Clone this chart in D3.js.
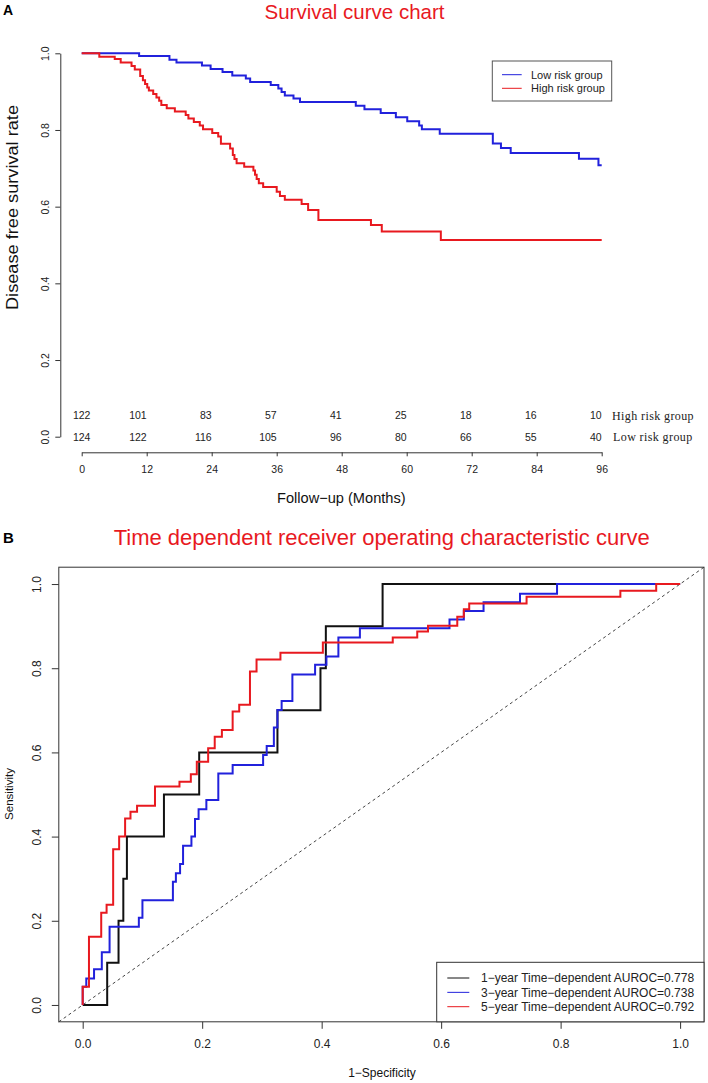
<!DOCTYPE html>
<html>
<head>
<meta charset="utf-8">
<script src="https://cdn.jsdelivr.net/npm/d3@7"></script>
<style>
  html, body { margin: 0; padding: 0; background: #fff; }
  svg { display: block; font-family: "Liberation Sans", Arial, sans-serif; }
  .serif { font-family: "Liberation Serif", "Times New Roman", serif; }
</style>
</head>
<body>
<svg id="chart" width="708" height="1083"></svg>
<script>
// ---------------- Panel A data ----------------
const lowTimes = [0, 10.6, 16.2, 17.5, 22.2, 23.8, 26, 27.8, 30.3, 31.1, 34.9, 36.3, 36.9, 37.5, 39.1, 40.3, 50.6, 52.2, 55.2, 58.0, 60.1, 62.3, 62.8, 66.1, 75.9, 77.4, 79.2, 91.8, 95.4, 96];
const lowSurv  = [1, 0.993, 0.983, 0.976, 0.968, 0.959, 0.951, 0.942, 0.934, 0.925, 0.917, 0.908, 0.899, 0.890, 0.882, 0.873, 0.863, 0.854, 0.844, 0.833, 0.823, 0.812, 0.802, 0.790, 0.765, 0.753, 0.740, 0.725, 0.708, 0.708];
const highTimes = [0, 3.25, 6.1, 7.2, 9.2, 9.8, 10.8, 11.3, 11.7, 12.1, 12.4, 13.2, 13.8, 14.3, 14.7, 15.7, 17.2, 19.2, 19.7, 20.7, 21.8, 22.4, 24.1, 25.2, 25.7, 27.4, 27.9, 28.2, 28.6, 30, 31.7, 32, 32.3, 32.7, 33.5, 36, 36.6, 37.5, 40.6, 41.8, 43.7, 53.4, 55.4, 66.3, 96];
const highSurv  = [1, 0.991, 0.985, 0.976, 0.967, 0.958, 0.941, 0.930, 0.920, 0.911, 0.903, 0.894, 0.885, 0.876, 0.865, 0.857, 0.848, 0.839, 0.830, 0.821, 0.812, 0.802, 0.792, 0.783, 0.764, 0.752, 0.735, 0.724, 0.713, 0.704, 0.694, 0.683, 0.672, 0.661, 0.651, 0.639, 0.628, 0.618, 0.607, 0.591, 0.565, 0.552, 0.535, 0.513, 0.513];
const monthTicks = [0, 12, 24, 36, 48, 60, 72, 84, 96];
const survTicks = [0, 0.2, 0.4, 0.6, 0.8, 1.0];
const atRiskHigh = [122, 101, 83, 57, 41, 25, 18, 16, 10];
const atRiskLow  = [124, 122, 116, 105, 96, 80, 66, 55, 40];
const groupNames = ["Low risk group", "High risk group"];

// ---------------- Panel B data ----------------
const roc1FPR = [0, 0.041, 0.060, 0.068, 0.074, 0.136, 0.195, 0.326, 0.398, 0.407, 0.502, 1];
const roc1TPR = [0, 0.1, 0.2, 0.3, 0.4, 0.5, 0.6, 0.7, 0.8, 0.9, 1.0, 1.0];
const roc3FPR = [0, 0, 0.006, 0.019, 0.032, 0.045, 0.094, 0.100, 0.151, 0.156, 0.163, 0.168, 0.182, 0.188, 0.194, 0.207, 0.227, 0.251, 0.302, 0.308, 0.320, 0.326, 0.333, 0.351, 0.389, 0.408, 0.428, 0.464, 0.614, 0.638, 0.671, 0.732, 0.794, 1];
const roc3TPR = [0, 0.043, 0.063, 0.085, 0.125, 0.186, 0.207, 0.249, 0.293, 0.313, 0.335, 0.378, 0.400, 0.442, 0.465, 0.487, 0.550, 0.570, 0.594, 0.615, 0.659, 0.701, 0.722, 0.785, 0.808, 0.828, 0.873, 0.895, 0.916, 0.936, 0.957, 0.977, 1.0, 1.0];
const roc5FPR = [0, 0, 0.0105, 0.031, 0.040, 0.051, 0.061, 0.071, 0.080, 0.091, 0.121, 0.162, 0.181, 0.191, 0.210, 0.221, 0.233, 0.251, 0.262, 0.280, 0.291, 0.331, 0.402, 0.519, 0.560, 0.578, 0.627, 0.638, 0.647, 0.743, 0.900, 0.960, 1];
const roc5TPR = [0, 0.043, 0.162, 0.219, 0.238, 0.370, 0.400, 0.443, 0.459, 0.473, 0.519, 0.530, 0.548, 0.578, 0.610, 0.637, 0.653, 0.697, 0.713, 0.792, 0.821, 0.837, 0.861, 0.873, 0.887, 0.901, 0.922, 0.940, 0.954, 0.970, 0.984, 1.0, 1.0];
const rocTicks = [0, 0.2, 0.4, 0.6, 0.8, 1.0];
const rocLabels = ["1\u2212year Time\u2212dependent AUROC=0.778", "3\u2212year Time\u2212dependent AUROC=0.738", "5\u2212year Time\u2212dependent AUROC=0.792"];

const RED = "#e8191f", BLUE = "#2121dc", AXIS = "#333";
const svg = d3.select("#chart");
const fmt = d3.format(".1f");

// ================= Panel A =================
const xA = d3.scaleLinear().domain([0, 96]).range([81.7, 601.7]);
const yA = d3.scaleLinear().domain([0, 1]).range([436.7, 53.3]);

svg.append("text").attr("x", 3).attr("y", 15).attr("font-size", 14).attr("font-weight", "bold").text("A");
svg.append("text").attr("x", 354.5).attr("y", 18.5).attr("text-anchor", "middle")
  .attr("font-size", 20.5).attr("fill", RED).text("Survival curve chart");

// y axis
const gyA = svg.append("g").attr("transform", "translate(60.3,0)")
  .call(d3.axisLeft(yA).tickValues(survTicks).tickFormat(fmt).tickSize(5).tickSizeOuter(0));
gyA.attr("font-family", null);
gyA.select(".domain").attr("stroke", AXIS);
gyA.selectAll(".tick line").attr("stroke", AXIS);
gyA.selectAll(".tick text").attr("transform", "rotate(-90)").attr("x", 0).attr("y", -11.3)
  .attr("dy", 0).attr("text-anchor", "middle").attr("font-size", 10.5).attr("fill", "#222");

// x axis
const gxA = svg.append("g").attr("transform", "translate(0,452.3)")
  .call(d3.axisBottom(xA).tickValues(monthTicks).tickSize(4).tickSizeOuter(0));
gxA.attr("font-family", null);
gxA.select(".domain").attr("stroke", AXIS);
gxA.selectAll(".tick line").attr("stroke", AXIS);
gxA.selectAll(".tick text").attr("y", 20.5).attr("dy", 0).attr("font-size", 10.5).attr("fill", "#222");

svg.append("text").attr("x", 341.3).attr("y", 503).attr("text-anchor", "middle")
  .attr("font-size", 14.6).attr("fill", "#111").text("Follow\u2212up (Months)");
svg.append("text").attr("transform", "translate(18,207.5) rotate(-90)").attr("text-anchor", "middle")
  .attr("font-size", 16).attr("textLength", 205).attr("lengthAdjust", "spacingAndGlyphs")
  .attr("fill", "#111").text("Disease free survival rate");

// curves
const lineA = d3.line().x(d => xA(d[0])).y(d => yA(d[1])).curve(d3.curveStepAfter);
svg.append("path").datum(d3.zip(lowTimes, lowSurv)).attr("d", lineA)
  .attr("fill", "none").attr("stroke", BLUE).attr("stroke-width", 2);
svg.append("path").datum(d3.zip(highTimes, highSurv)).attr("d", lineA)
  .attr("fill", "none").attr("stroke", RED).attr("stroke-width", 2);

// at-risk table
function riskRow(vals, y) {
  svg.append("g").selectAll("text").data(vals).join("text")
    .attr("x", (d, i) => xA(monthTicks[i]))
    .attr("y", y)
    .attr("text-anchor", (d, i) => i === 0 ? "middle" : "end")
    .attr("font-size", 10.5).attr("fill", "#222").text(d => d);
}
riskRow(atRiskHigh, 419);
riskRow(atRiskLow, 440.5);
svg.append("text").attr("class", "serif").attr("x", 612).attr("y", 419.5)
  .attr("font-size", 12).attr("letter-spacing", 0.4).attr("fill", "#222").text(groupNames[1]);
svg.append("text").attr("class", "serif").attr("x", 613).attr("y", 441)
  .attr("font-size", 12).attr("letter-spacing", 0.4).attr("fill", "#222").text(groupNames[0]);

// legend A
const legA = svg.append("g");
legA.append("rect").attr("x", 492.3).attr("y", 61).attr("width", 119.4).attr("height", 40)
  .attr("fill", "#fff").attr("stroke", "#555").attr("stroke-width", 1);
[[BLUE, groupNames[0]], [RED, groupNames[1]]].forEach((d, i) => {
  const y = 74.7 + i * 13.6;
  legA.append("line").attr("x1", 502).attr("x2", 521.7).attr("y1", y).attr("y2", y).attr("stroke", d[0]).attr("stroke-width", 1);
  legA.append("text").attr("x", 531).attr("y", y + 4).attr("font-size", 11).attr("fill", "#222").text(d[1]);
});

// ================= Panel B =================
const xB = d3.scaleLinear().domain([-0.04, 1.04]).range([58.8, 704]);
const yB = d3.scaleLinear().domain([-0.04, 1.04]).range([1021.8, 567.2]);

svg.append("text").attr("x", 3).attr("y", 543).attr("font-size", 15).attr("font-weight", "bold").text("B");
svg.append("text").attr("x", 381.7).attr("y", 545).attr("text-anchor", "middle")
  .attr("font-size", 22).attr("fill", RED).text("Time dependent receiver operating characteristic curve");

// diagonal
svg.append("line").attr("x1", xB(-0.04)).attr("y1", yB(-0.04)).attr("x2", xB(1.04)).attr("y2", yB(1.04))
  .attr("stroke", "#444").attr("stroke-width", 1).attr("stroke-dasharray", "3,3");

// axes
const gyB = svg.append("g").attr("transform", "translate(58.8,0)")
  .call(d3.axisLeft(yB).tickValues(rocTicks).tickFormat(fmt).tickSize(7).tickSizeOuter(0));
gyB.attr("font-family", null);
gyB.select(".domain").remove();
gyB.selectAll(".tick line").attr("stroke", AXIS);
gyB.selectAll(".tick text").attr("transform", "rotate(-90)").attr("x", 0).attr("y", -17.5)
  .attr("dy", 0).attr("text-anchor", "middle").attr("font-size", 12).attr("fill", "#222");

const gxB = svg.append("g").attr("transform", "translate(0,1021.8)")
  .call(d3.axisBottom(xB).tickValues(rocTicks).tickFormat(fmt).tickSize(7).tickSizeOuter(0));
gxB.attr("font-family", null);
gxB.select(".domain").remove();
gxB.selectAll(".tick line").attr("stroke", AXIS);
gxB.selectAll(".tick text").attr("y", 26.5).attr("dy", 0).attr("font-size", 12).attr("fill", "#222");

svg.append("text").attr("x", 382).attr("y", 1077).attr("text-anchor", "middle")
  .attr("font-size", 12).attr("fill", "#111").text("1\u2212Specificity");
svg.append("text").attr("transform", "translate(13,794) rotate(-90)").attr("text-anchor", "middle")
  .attr("font-size", 11.5).attr("fill", "#111").text("Sensitivity");

// curves
const lineB = d3.line().x(d => xB(d[0])).y(d => yB(d[1])).curve(d3.curveStepAfter);
const rocSeries = [[roc1FPR, roc1TPR, "#111"], [roc3FPR, roc3TPR, BLUE], [roc5FPR, roc5TPR, RED]];
rocSeries.forEach(s => {
  svg.append("path").datum(d3.zip(s[0], s[1])).attr("d", lineB)
    .attr("fill", "none").attr("stroke", s[2]).attr("stroke-width", 2);
});

// box
svg.append("rect").attr("x", 58.8).attr("y", 567.2).attr("width", 704 - 58.8).attr("height", 1021.8 - 567.2)
  .attr("fill", "none").attr("stroke", AXIS).attr("stroke-width", 1);

// legend B
const legB = svg.append("g");
legB.append("rect").attr("x", 436.7).attr("y", 962.3).attr("width", 704 - 436.7).attr("height", 1021.8 - 962.3)
  .attr("fill", "#fff").attr("stroke", AXIS).attr("stroke-width", 1);
rocSeries.forEach((s, i) => {
  const y = 978 + i * 14.35;
  legB.append("line").attr("x1", 447.3).attr("x2", 469.3).attr("y1", y).attr("y2", y).attr("stroke", s[2]).attr("stroke-width", 1);
  legB.append("text").attr("x", 481).attr("y", y + 4.3).attr("font-size", 12).attr("fill", "#222").text(rocLabels[i]);
});
</script>
</body>
</html>
